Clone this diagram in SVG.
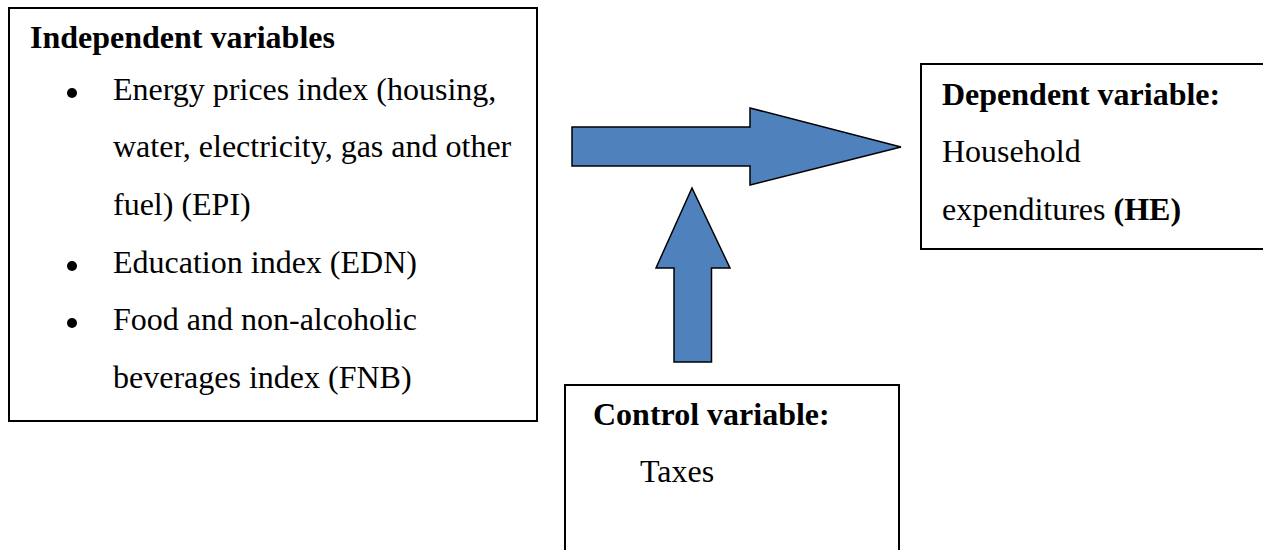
<svg xmlns="http://www.w3.org/2000/svg" width="1263" height="550" viewBox="0 0 1263 550">
<style>
.box{fill:#fff;stroke:#000;stroke-width:2}
.t{font-size:32px;fill:#000}
.b{font-weight:bold}
.arrow{fill:#4F81BD;stroke:#000;stroke-width:1.5;stroke-linejoin:miter}
</style>
<rect width="1263" height="550" fill="#fff"/>
<g font-family="'Liberation Serif', Tinos, 'DejaVu Serif', serif">
<g id="independent">
<rect class="box" x="9" y="8" width="528" height="413"/>
<text class="t b" x="30" y="48">Independent variables</text>
<circle cx="72" cy="93" r="5"/>
<text class="t" x="113" y="100">Energy prices index (housing,</text>
<text class="t" x="113" y="157">water, electricity, gas and other</text>
<text class="t" x="113" y="215">fuel) (EPI)</text>
<circle cx="72" cy="266" r="5"/>
<text class="t" x="113" y="273">Education index (EDN)</text>
<circle cx="72" cy="323" r="5"/>
<text class="t" x="113" y="330">Food and non-alcoholic</text>
<text class="t" x="113" y="388">beverages index (FNB)</text>
</g>
<g id="dependent">
<rect class="box" x="921" y="64" width="360" height="185"/>
<text class="t b" x="942" y="105">Dependent variable:</text>
<text class="t" x="942" y="162">Household</text>
<text class="t" x="942" y="220">expenditures <tspan class="b">(HE)</tspan></text>
</g>
<g id="control">
<rect class="box" x="565" y="385" width="334" height="180"/>
<text class="t b" x="593" y="425">Control variable:</text>
<text class="t" x="640" y="482">Taxes</text>
</g>
</g>
<g id="connectors">
<polygon class="arrow" points="572,127 750,127 750,108 901,147 750,185 750,166 572,166"/>
<polygon class="arrow" points="692,188 730,268 711.5,268 711.5,362 674,362 674,268 656,268"/>
</g>
</svg>
